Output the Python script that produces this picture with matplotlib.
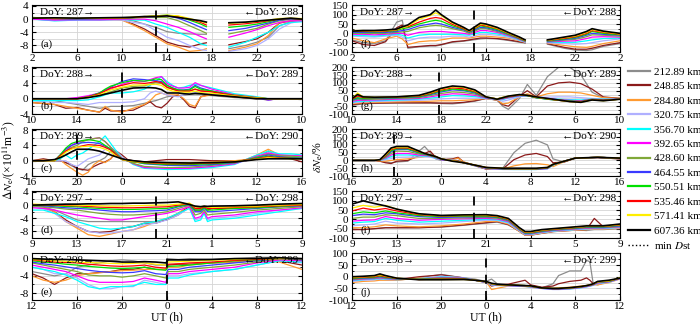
import numpy as np
import matplotlib
matplotlib.use('Agg')
import matplotlib.pyplot as plt
from matplotlib.ticker import MultipleLocator, FuncFormatter
from matplotlib.lines import Line2D

nan = np.nan

heights = ['212.89 km', '248.85 km', '284.80 km', '320.75 km', '356.70 km', '392.65 km',
           '428.60 km', '464.55 km', '550.51 km', '535.46 km', '571.41 km', '607.36 km']
colors = ['#8c8c8c', '#8b1a1a', '#ff9a30', '#b0b0ff', '#00ffff', '#ff00ff',
          '#80a838', '#3a3aff', '#00e000', '#ff0000', '#ffee00', '#000000']

# panel rows: start hour of the 24 h window, day numbers, time of min Dst
start_hours = [2, 10, 16, 9, 12]
doys = [(287, 288), (288, 289), (289, 290), (297, 298), (298, 299)]
min_dst_left = [13.0, 18.0, 20.0, 20.0, 24.0]
min_dst_right = [12.9, 17.8, 19.8, 19.9, 24.0]

# ---------------- left column: dNe (x 1e11 m^-3) ----------------
# rows in legend order: gray, brown, orange, lavender, cyan, magenta,
# olive, blue, green, red, yellow, black
t_a = [2, 4, 6, 8, 10, 11, 12, 13, 14, 15, 16, 17, 17.5, 18.5, 19.5, 21, 22, 23, 24, 25, 26]
dn_a = [
    [0, -0.2, 0, -0.3, 0, -0.5, -1.5, -2.5, -3.8, -4.3, -4.5, -4.6, -4.6, nan, -9, -8, -7, -5.5, -2, -0.8, -0.5],
    [0.2, 0, 0, 0, -0.2, -1.5, -3, -5, -7, -8, -8.5, -7.5, -7.2, nan, -7.8, -6.8, -6, -4, -1.2, -0.5, -0.3],
    [0.3, 0, 0, 0, -0.3, -1.8, -3.5, -5.5, -7.5, -8.5, -9.8, -9.5, -9, nan, -9.6, -8.5, -7.5, -5, -1, -0.5, -0.3],
    [0, -0.5, -0.3, -0.3, -0.3, -1, -1.5, -3.5, -5.5, -6.5, -8, -9.3, -9.5, nan, -9.8, -9, -8, -6, -3, -1.2, -0.5],
    [0, -0.5, -0.3, -0.2, 0, -0.3, -0.3, -1.5, -2.5, -4, -5.5, -7.5, -8, nan, -8.5, -7, -5.5, -4, -2, -1, -0.8],
    [0, -0.3, -0.2, -0.2, 0, 0, 0, -0.5, -1.5, -2.5, -3.8, -5.3, -6, nan, -5.5, -4.2, -3.2, -2, -1, -0.5, -0.5],
    [0.5, 0.2, 0, 0.2, 0.2, 0.3, 0.5, 0.5, 0.5, -0.5, -2, -3.5, -4.3, nan, -4.5, -3.5, -2.8, -1.5, -0.5, 0, -0.2],
    [0.3, 0.2, 0, 0.2, 0.3, 0.5, 0.6, 0.8, 1, 0.3, -1, -2.5, -3.2, nan, -3.5, -2.8, -2, -1.2, -0.3, 0, 0],
    [0.5, 0.3, 0.2, 0.3, 0.3, 0.5, 0.7, 1, 1.2, 0.8, -0.3, -1.5, -2.3, nan, -2.5, -2, -1.5, -0.8, 0, 0.2, 0],
    [0.3, 0.2, 0.2, 0.3, 0.3, 0.5, 0.7, 0.9, 1.1, 0.8, 0, -1, -1.8, nan, -1.8, -1.4, -1, -0.5, 0, 0.2, 0],
    [0.3, 0.3, 0.2, 0.3, 0.4, 0.6, 0.8, 1, 1.2, 1, 0.2, -0.7, -1.2, nan, -1.3, -1, -0.7, -0.3, 0.2, 0.3, 0.2],
    [0.3, 0.4, 0.3, 0.4, 0.5, 0.6, 0.8, 0.8, 1, 0.5, 0, -0.5, -0.9, nan, -1.1, -0.9, -0.6, -0.3, 0, 0.3, 0],
]

t_b = [10, 12, 13, 14, 15, 16, 16.5, 17, 18, 19, 20, 20.5, 21, 21.5, 22, 22.5, 23, 23.5, 24, 24.5, 25, 26, 28, 30, 31, 32, 34]
dn_b = [
    [-0.3, -0.5, -1, -1.5, -2, -2.5, -2.3, -2, -2, -1.8, -1.2, -0.8, -0.5, 0, 0.5, 0.7, 0.8, 0.9, 1, 1, 1, 0.8, 0.3, 0, 0, 0, 0],
    [-1, -1.5, -2.5, -2.3, -3, -3.5, -2.5, -3.2, -3.2, -3, -1.6, -0.8, -2, -2.4, -1.2, 0.5, 1, -0.3, -2, -2.4, 0.5, 1.3, 0.5, 0, -0.3, 0, 0],
    [-1, -1.5, -2, -2.5, -3, -3.5, -2, -3, -3.5, -2.5, -1.5, -0.5, 1, 1.5, 1, 1, 1, 0, -1.5, -2, 0.5, 1, 0.5, 0, -0.2, 0, 0],
    [-0.5, -1, -1, -1.2, -1.5, -1, -1, -1, -1, -0.8, 0, 1.5, 2, 1.5, 1, 0.7, 0.5, 1, 1.5, 1.5, 1.5, 1.2, 0.6, 0, -0.3, 0, 0],
    [-0.5, -0.5, -0.5, -0.5, -0.3, 0.5, 1, 1.5, 1.5, 1.8, 2.5, 3.5, 4.5, 5.8, 4.5, 3.5, 2.8, 3, 3.5, 3.8, 3.5, 2.8, 1.3, 0.5, 0, 0, 0],
    [0, 0, 0, 0.3, 0.8, 1.5, 2, 2.5, 3.8, 4.7, 4.5, 5, 5.5, 5.8, 4, 3.3, 2.8, 2.8, 3, 4.2, 3.5, 2.5, 1, 0.3, -0.3, 0, 0],
    [0, 0, 0, 0, 0.3, 1, 1.3, 1.8, 2.8, 3.2, 3.4, 3.8, 4.2, 4, 3, 2.5, 2, 2, 2, 2.5, 2.2, 1.8, 1, 0.3, 0, 0, 0],
    [0, 0, 0, 0, 0.5, 1.5, 2.3, 3, 4.5, 5.2, 5, 4.8, 4.7, 4.5, 3.5, 2.8, 2.3, 2.3, 2.5, 3.5, 2.8, 2, 0.8, 0.2, -0.3, 0, 0],
    [0, 0, 0, 0, 0.5, 1.5, 2.5, 3.3, 4.2, 4.8, 4.6, 4.8, 5.2, 5, 3.5, 2.8, 2.3, 2.2, 2.3, 3.2, 2.5, 2, 0.8, 0.2, 0, 0, 0],
    [0, 0, 0, 0, 0.5, 1.3, 2, 2.8, 3.5, 4.2, 4, 4.2, 4.5, 4.2, 3, 2.5, 2, 2, 2, 2.5, 2, 1.8, 0.8, 0.2, 0, 0, 0],
    [0, 0, 0, 0, 0.4, 1, 1.7, 2.3, 3, 3.6, 3.6, 3.7, 3.8, 3.5, 2.5, 2, 1.8, 1.7, 1.7, 2, 1.6, 1.4, 0.7, 0.2, 0, 0, 0],
    [0, 0, 0, 0, 0.3, 0.8, 1.2, 1.5, 2.2, 2.8, 2.9, 2.9, 2.8, 2.4, 1.5, 1.5, 1.5, 1.3, 1.2, 1.4, 1.3, 1, 0.5, 0, 0, 0, 0],
]

t_c = [16, 17, 18, 18.5, 19, 19.5, 20, 20.5, 21, 21.5, 22, 22.5, 23, 23.5, 24, 24.5, 25, 26, 28, 30, 32, 34, 35, 36, 37, 38, 39, 40]
dn_c = [
    [0, 0, 0, 0, -0.5, -1.3, -2, -2.5, -1, -0.3, 0, 0.8, 2.5, 2, 0.5, 0, -0.3, -0.5, -0.8, -0.8, -0.5, -0.2, 0, 0.8, 2, 1.2, 1, 0.5],
    [0, 0.5, 0, 0, -0.5, -1, -2, -2.3, -2.5, -1.5, -0.8, -0.3, 0.5, 2.5, 1.5, 0.3, 0, -0.3, 0.3, 0.3, 0, 0, 0, 0.5, 2.5, 1, 0.5, -0.3],
    [0, 0.2, 0, 0.3, -1, -2, -3, -3.8, -3, -1, 0, -0.5, 0.5, 2, 1, 0, -0.3, -0.5, -0.8, -0.5, -0.3, 0, 0.3, 1.5, 3, 1.5, 1, 0.5],
    [0, 0, 0, 0, 0, -1, -1.5, -0.5, 0.5, 1, 1.5, 3, 3.5, 2.5, 1, 0, -0.8, -1.8, -2, -2, -1.5, -0.8, 0, 1, 2.2, 1.5, 1.5, 1],
    [0, 0, 0, 0.5, 1.5, 0.5, 1.5, 2, 3, 4, 5, 6.5, 4.5, 2.5, 0.5, 0, -1, -2, -2.3, -2.2, -1.8, -1, 0.3, 1.5, 2.5, 1.8, 1.8, 1.5],
    [0, 0, 0, 1, 2.5, 4, 4.8, 5.2, 5.5, 5.8, 6, 5, 3.5, 2, 0.5, 0, -0.8, -1.8, -2, -2, -1.5, -0.8, 0.2, 1.2, 2, 1.5, 1.3, 1.3],
    [0, 0, 0, 1, 2.5, 3.5, 4, 5, 5.5, 5.8, 6, 5, 3.5, 2, 0.5, 0, -0.7, -1.5, -1.8, -1.7, -1.2, -0.6, 0.2, 1, 1.7, 1.3, 1.2, 1],
    [0, 0, 0, 1.5, 3, 4, 4.5, 4.7, 4.8, 4.7, 4.5, 3.8, 3, 1.5, 0.3, 0, -0.2, -0.8, -1.2, -1.3, -1, -0.5, 0.2, 0.8, 1.5, 1, 0.8, 0.7],
    [0, 0, 0, 1.5, 3.3, 4.5, 5, 5.3, 5.5, 5.3, 5, 4, 3, 1.5, 0.3, 0, -0.3, -0.7, -1, -1, -0.8, -0.4, 0.2, 0.7, 1.2, 0.8, 0.7, 0.6],
    [0, 0, 0, 1.3, 2.5, 3.2, 3.5, 3.9, 4.2, 4.1, 4, 3.5, 2.8, 1.5, 0.3, 0, -0.2, -0.5, -0.8, -0.8, -0.6, -0.3, 0.2, 0.5, 1, 0.7, 0.6, 0.5],
    [0, 0, 0, 1, 2.2, 3, 3.5, 3.7, 3.8, 3.7, 3.5, 3, 2.3, 1.2, 0.3, 0, -0.2, -0.4, -0.6, -0.6, -0.5, -0.2, 0.1, 0.4, 0.8, 0.6, 0.5, 0.5],
    [0, 0, 0.3, 0.8, 1.5, 2.3, 3, 3, 3, 2.8, 2.5, 2, 1.5, 1, 0.5, 0.2, 0, -0.3, -0.5, -0.6, -0.5, -0.3, 0, 0.3, 0.5, 0.5, 0.5, 0.5],
]

t_d = [9, 10, 11, 12, 13, 14, 15, 16, 17, 18, 19, 20, 21, 22, 23, 23.5, 24, 24.3, 24.6, 25, 27, 29, 31, 33]
dn_d = [
    [-0.3, -0.5, -1.5, -3, -4.5, -5, -5, -5, -5, -5, -5, -5, -4.5, -3, -0.5, -1, -1, -0.5, -1, -1, -1, -0.5, -0.3, 0],
    [-0.5, -0.8, -2, -4.5, -6.5, -8, -8.3, -8, -7, -6.5, -5.5, -5.5, -4.3, -2.5, -0.5, -1.5, -1.5, -0.8, -1.5, -1, -0.8, -0.5, -0.3, 0],
    [-0.5, -0.8, -2, -5, -7, -9, -9.5, -8.8, -8, -7.5, -6.5, -5, -4, -2.5, 0.2, -0.5, -1, -0.5, -1, -0.5, -0.8, -0.7, -0.5, -0.3],
    [-0.5, -1, -2.5, -5, -6.5, -8, -8.5, -8.5, -8, -7.5, -6, -5.5, -4.5, -3, -0.8, -4.5, -4, -2, -4.5, -4, -3.5, -2.5, -1.5, -1],
    [-1.5, -1.5, -2.5, -3.5, -5, -6, -7, -7.3, -7, -6.5, -5.5, -5, -4, -2.5, -1, -5, -4.5, -2.5, -5, -4.5, -4, -3, -2, -1],
    [-0.8, -1, -1.5, -2.3, -3, -3.5, -4, -4.5, -4.5, -4, -3.5, -3, -2.5, -1.5, -0.5, -4, -3.5, -2, -4, -3.5, -3, -2, -1.5, -0.8],
    [-0.3, -0.5, -0.8, -1.2, -1.5, -2, -2.5, -2.8, -3, -3, -2.8, -2.5, -2, -1, 0, -3, -2.5, -1.5, -3, -2.8, -2.2, -1.5, -1, -0.5],
    [0, -0.2, -0.5, -0.8, -1, -1.2, -1.5, -1.8, -2, -2, -1.8, -1.7, -1.5, -0.5, 0.2, -2, -2, -1, -2, -2, -1.5, -1, -0.5, -0.2],
    [0, 0, -0.2, -0.4, -0.5, -0.8, -1, -1.2, -1.3, -1.3, -1.2, -1.1, -1, -0.3, 0.3, -1.5, -1.5, -0.8, -1.5, -1.5, -1, -0.8, -0.4, 0],
    [0.2, 0.1, 0, -0.1, -0.2, -0.4, -0.6, -0.7, -0.8, -0.8, -0.7, -0.6, -0.5, 0, 0.5, -1, -1, -0.5, -1, -1, -0.7, -0.5, -0.2, 0],
    [0.3, 0.2, 0.2, 0.1, 0, -0.1, -0.2, -0.3, -0.3, -0.2, -0.1, 0, 0, 0.3, 0.6, -0.5, -0.6, -0.3, -0.6, -0.7, -0.5, -0.3, 0, 0.2],
    [0, 0.1, 0.2, 0.3, 0.3, 0.4, 0.4, 0.5, 0.5, 0.6, 0.6, 0.7, 0.8, 1, 0.2, -0.3, -0.5, -0.3, -0.4, -0.3, -0.2, 0, 0.3, 0.5],
]

t_e = [12, 13, 14, 15, 16, 17, 18, 19, 20, 21, 22, 23, 23.9, 24.1, 25, 26, 28, 30, 32, 34, 36]
dn_e = [
    [-3, -3.5, -4, -3.5, -2, -1.5, -1, -0.5, -0.3, -0.5, -1, -1.5, -1.5, 0, -0.2, 0, -0.2, 0, 0.3, 0.3, -0.5],
    [-3.5, -4.5, -6, -4.5, -3.5, -3.5, -3.2, -3, -2.5, -2.5, -2, -2.5, -2.5, -1.5, -1.3, -1.3, -1, -0.8, -0.5, -0.5, -1.5],
    [-4, -5, -5.5, -5, -4, -3.5, -3.3, -3, -2.8, -2.7, -2.5, -2.5, -2.5, -2, -2, -1.5, -1, -0.8, -0.5, -0.8, -2.5],
    [-2, -2.5, -3.5, -3.5, -4.5, -6, -7, -7, -6.5, -6.5, -5, -5.5, -6, -4, -4, -3.5, -3, -2.5, -1.5, -0.5, -1],
    [-2, -2.5, -3, -3.8, -5, -6.5, -7, -6.5, -6.5, -6.3, -5.5, -6, -6, -4.5, -4.5, -3.8, -3, -2.5, -1.5, -0.5, -0.8],
    [-1.5, -2, -2.5, -3, -4, -5, -5.5, -5.5, -5.5, -5.3, -4.5, -5, -5.5, -3.5, -3.5, -3, -2.5, -2, -1, -0.3, -0.5],
    [-1, -1.5, -2, -2.5, -3, -3.8, -4, -4, -4.3, -4, -3.5, -4, -4.5, -3, -3, -2.5, -2, -1.5, -0.8, 0, -0.3],
    [-0.8, -1.2, -1.5, -1.9, -2.3, -2.7, -3, -3.2, -3.3, -3.2, -2.8, -3.5, -3.7, -2.5, -2.5, -2, -1.5, -1, -0.5, 0, -0.3],
    [-0.5, -0.8, -1, -1.3, -1.5, -1.8, -2, -2.2, -2.3, -2.2, -2, -2.5, -2.7, -1.8, -1.7, -1.5, -1, -0.5, -0.3, 0, 0],
    [-0.3, -0.5, -0.8, -0.9, -1, -1.3, -1.5, -1.7, -1.8, -1.7, -1.5, -2, -2.2, -1.3, -1.2, -1, -0.8, -0.4, -0.2, 0, 0],
    [-0.2, -0.3, -0.5, -0.6, -0.8, -0.9, -1, -1.1, -1.2, -1.1, -1, -1.3, -1.5, -0.8, -0.7, -0.6, -0.4, -0.2, 0, 0, 0],
    [0, -0.1, -0.2, -0.2, -0.3, -0.4, -0.5, -0.6, -0.8, -0.8, -0.7, -0.8, -1, -0.3, -0.3, -0.3, -0.2, 0, 0, 0.2, 0],
]

# ---------------- right column: relative change (%) ----------------
t_f = [2, 3, 4, 5, 6, 6.5, 7, 8, 9, 9.5, 10, 11, 12, 12.5, 13.5, 14, 15, 16, 17, 17.5, 18.5, 19.5, 21, 22, 23, 23.5, 24.5, 26]
pc_f = [
    [-35, -50, -55, -40, 60, 70, -80, -72, -68, -68, -62, -48, -42, -38, -30, -28, -30, -38, -48, -52, nan, -58, -80, -90, -92, -88, -70, -55],
    [-40, -60, -65, -45, 30, 45, -75, -70, -65, -65, -60, -45, -40, -35, -25, -25, -28, -35, -45, -50, nan, -55, -75, -85, -85, -80, -65, -50],
    [-25, -40, -50, -30, -15, -30, -60, -45, -40, -40, -35, -25, -25, -25, -15, -15, -20, -25, -40, -48, nan, -52, -65, -72, -75, -70, -55, -40],
    [-15, -18, -20, -15, -10, -20, -40, -25, -20, -20, -20, -15, -15, -20, -5, -5, -10, -20, -38, -47, nan, -50, -55, -58, -55, -50, -40, -30],
    [-10, -12, -15, -10, -5, -10, -25, -10, -5, -5, -5, -5, -8, -10, 5, 5, -3, -15, -35, -45, nan, -48, -48, -48, -40, -35, -28, -25],
    [-5, -5, -8, -5, 0, 0, -10, 5, 10, 10, 10, 5, 0, -5, 15, 15, 5, -12, -32, -44, nan, -46, -42, -40, -28, -20, -18, -20],
    [0, 0, 0, 0, 5, 8, 10, 30, 40, 42, 40, 25, 12, 0, 25, 25, 10, -8, -30, -42, nan, -44, -37, -32, -18, -8, -10, -15],
    [5, 5, 5, 5, 10, 15, 20, 40, 50, 55, 50, 32, 18, 5, 32, 30, 15, -5, -28, -40, nan, -42, -33, -27, -10, 0, -5, -10],
    [10, 10, 8, 10, 15, 25, 30, 50, 65, 70, 65, 40, 22, 8, 40, 35, 20, -3, -27, -40, nan, -40, -30, -22, -5, 10, 0, -8],
    [12, 12, 10, 12, 18, 35, 35, 60, 80, 85, 80, 48, 25, 10, 45, 40, 25, 0, -25, -38, nan, -38, -27, -18, 0, 15, 5, -5],
    [15, 15, 12, 15, 20, 30, 40, 75, 95, 110, 95, 55, 30, 12, 50, 45, 28, 2, -22, -37, nan, -37, -23, -14, 5, 20, 8, -3],
    [12, 15, 15, 18, 23, 35, 45, 85, 100, 125, 100, 60, 32, 15, 55, 50, 32, 5, -20, -35, nan, -35, -20, -10, 10, 25, 12, 0],
]

t_g = [10, 10.5, 11, 12, 14, 16, 17, 18, 19, 20, 21, 22, 23, 23.5, 24, 25, 25.7, 26.5, 27.5, 28.5, 29.5, 30.5, 31.5, 32.5, 34]
pc_g = [
    [-45, -40, -35, -32, -30, -30, -30, -33, -35, -28, -18, 0, -12, -50, -70, 0, 90, 20, 140, 200, 200, 150, 40, 5, 0],
    [-40, -35, -32, -30, -28, -28, -28, -30, -30, -25, -15, 0, -10, -40, -50, 15, 50, 10, 80, 100, 105, 95, 60, 10, 0],
    [-35, -30, -28, -25, -22, -20, -18, -15, -15, -12, -8, 0, -10, -35, -30, 10, 30, 10, 30, 40, 40, 35, 20, 5, 0],
    [-30, -25, -22, -20, -15, -12, -8, -3, 0, 2, 2, 0, -8, -18, -10, 10, 20, 8, 8, 10, 10, 5, 0, -3, -5],
    [-25, -18, -18, -15, -10, -5, 2, 10, 18, 16, 12, 2, -5, -8, 3, 15, 18, 5, 0, -5, -8, -10, -3, -5, -5],
    [-20, -12, -12, -10, -5, 0, 10, 22, 30, 27, 20, 3, -5, -3, 5, 18, 18, 5, 0, -8, -12, -15, -5, -8, -5],
    [-15, -5, -8, -5, 0, 5, 18, 32, 42, 38, 28, 5, -5, 0, 8, 20, 18, 5, -3, -10, -15, -18, -5, -10, -5],
    [-12, 0, -3, 0, 3, 10, 24, 42, 55, 50, 35, 5, -3, 3, 10, 20, 18, 5, -5, -12, -18, -20, -8, -10, -5],
    [-8, 5, 0, 3, 5, 12, 28, 48, 60, 55, 40, 8, -3, 5, 12, 22, 18, 5, -5, -12, -18, -22, -8, -12, -5],
    [-5, 15, 5, 5, 8, 15, 32, 55, 68, 62, 45, 8, -3, 5, 12, 22, 20, 8, -2, -12, -20, -22, -8, -12, -5],
    [0, 35, 10, 8, 10, 18, 36, 60, 75, 70, 50, 10, -3, 8, 15, 25, 20, 8, -2, -12, -20, -25, -10, -15, -5],
    [0, 25, 10, 8, 10, 20, 40, 65, 80, 75, 55, 10, -5, 5, 15, 25, 20, 10, 0, -10, -20, -25, -10, -15, -5],
]

t_h = [16, 18, 18.5, 19, 19.5, 20, 21, 22, 22.5, 23, 23.5, 24, 25, 25.5, 26, 28, 29.5, 30.5, 31.5, 32.5, 33.5, 34, 35, 36, 38, 40]
pc_h = [
    [0, 0, -5, -10, -15, -10, -5, 60, 90, 50, 10, 0, 5, 15, -15, -55, -50, 50, 110, 130, 100, 10, -10, 15, 18, 10],
    [0, 0, -5, -15, -20, -5, 0, 30, 45, 60, 20, 5, 10, 20, -10, -55, -55, 5, 35, 45, 25, -15, -10, 15, 18, 10],
    [0, 0, -3, -5, 0, 5, 10, 20, 25, 30, 15, 5, 5, 15, -10, -52, -55, -35, -22, -20, -28, -40, -8, 15, 20, 15],
    [0, 0, 0, 5, 12, 20, 22, 22, 25, 22, 12, 5, 2, 0, -15, -52, -58, -58, -58, -58, -54, -30, -5, 15, 20, 15],
    [0, 0, 1, 10, 25, 35, 35, 30, 28, 25, 15, 5, 0, -3, -15, -50, -57, -58, -58, -58, -53, -30, -5, 15, 20, 15],
    [0, 0, 2, 15, 35, 45, 45, 35, 32, 28, 18, 5, 0, -3, -15, -50, -56, -57, -57, -57, -52, -28, -5, 15, 20, 15],
    [0, 0, 2, 20, 45, 60, 58, 42, 36, 30, 20, 8, 0, -3, -15, -48, -55, -56, -56, -56, -50, -28, -5, 15, 20, 15],
    [0, 0, 3, 25, 55, 70, 70, 48, 40, 32, 22, 8, -2, -5, -15, -47, -54, -55, -55, -55, -49, -27, -5, 15, 20, 15],
    [0, 0, 3, 28, 62, 75, 75, 50, 42, 33, 23, 10, -2, -5, -15, -46, -53, -54, -54, -54, -48, -27, -5, 15, 20, 15],
    [0, 0, 4, 30, 70, 80, 80, 55, 45, 35, 25, 10, -3, -5, -15, -45, -52, -53, -53, -53, -47, -25, -5, 15, 20, 15],
    [0, 0, 5, 35, 75, 85, 85, 58, 45, 35, 25, 10, -3, -8, -15, -45, -50, -52, -52, -52, -45, -25, -5, 15, 20, 15],
    [0, 0, 5, 40, 80, 90, 90, 60, 45, 35, 25, 10, -5, -10, -15, -45, -50, -50, -50, -50, -45, -25, -5, 15, 20, 15],
]

t_i = [9, 10, 11, 12, 13, 14, 15, 17, 19, 21, 22, 23, 24, 24.5, 25, 26, 27, 29, 30, 30.7, 31.5, 33]
pc_i = [
    [-50, -55, -50, -45, -45, -45, -45, -42, -32, -20, -15, -30, -62, -82, -82, -72, -64, -56, -60, -55, -55, -50],
    [-55, -55, -50, -45, -45, -45, -45, -40, -30, -18, -12, -28, -65, -85, -85, -75, -66, -58, -55, 5, -40, -50],
    [-45, -45, -40, -30, -35, -38, -40, -35, -25, -12, -10, -25, -65, -84, -84, -74, -65, -58, -55, -52, -52, -48],
    [-35, -30, -25, -10, -20, -22, -25, -20, -12, -5, -6, -20, -62, -82, -82, -72, -64, -56, -52, -50, -50, -45],
    [-20, -15, -12, 5, -5, -10, -15, -10, -5, 0, -2, -16, -60, -80, -80, -70, -62, -54, -50, -48, -48, -42],
    [-10, -5, -3, 15, 5, 0, -5, 0, 3, 5, 2, -12, -58, -78, -78, -68, -60, -52, -48, -46, -46, -40],
    [5, 12, 12, 25, 20, 12, 5, 5, 8, 10, 6, -8, -56, -76, -76, -66, -58, -50, -45, -44, -44, -38],
    [20, 28, 25, 35, 30, 22, 15, 10, 13, 14, 10, -5, -54, -74, -74, -64, -57, -48, -42, -42, -42, -35],
    [30, 40, 35, 45, 35, 28, 20, 15, 17, 17, 12, -2, -52, -72, -72, -62, -55, -46, -40, -40, -40, -32],
    [45, 60, 50, 58, 45, 35, 25, 18, 20, 20, 15, 0, -50, -70, -70, -60, -54, -44, -38, -38, -38, -30],
    [60, 75, 65, 75, 55, 40, 28, 20, 22, 22, 18, 3, -48, -68, -68, -58, -52, -42, -37, -37, -37, -28],
    [82, 99, 85, 72, 55, 42, 30, 21, 24, 25, 20, 5, -45, -65, -65, -55, -50, -40, -35, -35, -35, -25],
]

t_j = [12, 13, 14, 14.5, 15, 16, 18, 20, 22, 23, 24, 24.5, 25, 26, 27.5, 28, 29, 30, 30.5, 31.5, 32.5, 33, 33.3, 33.6, 34, 35, 36]
pc_j = [
    [-10, -10, -10, -12, -12, -15, -5, 10, -5, -10, -20, -10, -30, -35, -38, -40, -48, -30, 5, 25, 25, 70, 65, -30, -35, -20, -5],
    [-15, -12, -10, -10, -12, -12, 0, 8, -5, -15, -25, -40, -35, -32, -15, -35, -45, -40, -30, -20, -15, -5, -15, -30, -30, -20, -5],
    [-25, -20, -18, -15, -15, -15, -6, 0, -5, -15, -20, -55, -50, -40, -42, -45, -50, -50, -48, -45, -40, -38, -36, -35, -35, -25, -10],
    [-20, -15, -13, -10, -12, -13, -8, 2, -4, -15, -25, -36, -38, -39, -42, -45, -51, -55, -55, -53, -48, -44, -41, -37, -30, -24, -9],
    [-17, -12, -10, -8, -10, -12, -9, -1, -5, -15, -24, -34, -37, -38, -41, -44, -50, -54, -54, -52, -47, -43, -40, -36, -28, -23, -8],
    [-14, -10, -8, -5, -8, -11, -10, -3, -6, -15, -24, -33, -36, -38, -40, -43, -50, -53, -53, -51, -46, -42, -39, -35, -27, -22, -8],
    [-11, -8, -6, -3, -6, -10, -10, -5, -7, -15, -23, -32, -35, -37, -39, -42, -49, -52, -52, -50, -45, -40, -38, -34, -25, -20, -7],
    [-9, -6, -4, 0, -4, -9, -11, -7, -8, -15, -23, -31, -35, -37, -39, -41, -49, -52, -52, -49, -44, -40, -37, -33, -24, -20, -6],
    [-7, -4, -2, 3, -2, -8, -11, -8, -9, -15, -22, -30, -34, -36, -38, -40, -48, -51, -51, -48, -43, -38, -36, -32, -22, -20, -5],
    [-5, -2, 0, 5, 0, -7, -12, -10, -10, -15, -22, -30, -34, -36, -38, -40, -48, -51, -51, -48, -43, -38, -36, -32, -22, -18, -6],
    [-3, 0, 3, 8, 3, -6, -12, -12, -12, -15, -22, -30, -34, -36, -38, -40, -48, -50, -50, -48, -43, -38, -36, -30, -22, -18, -5],
    [0, 2, 5, 12, 5, -6, -13, -13, -12, -15, -20, -28, -32, -35, -38, -39, -48, -50, -50, -47, -42, -38, -35, -30, -20, -15, -6],
]

left_data = [(t_a, dn_a), (t_b, dn_b), (t_c, dn_c), (t_d, dn_d), (t_e, dn_e)]
right_data = [(t_f, pc_f), (t_g, pc_g), (t_h, pc_h), (t_i, pc_i), (t_j, pc_j)]
left_ylim = [(-10, 4.3), (-4, 8.3), (-4, 8.3), (-10, 4.3), (-9.6, 1.3)]
left_yticks = [[-8, -4, 0, 4], [-4, 0, 4, 8], [-4, 0, 4, 8], [-8, -4, 0, 4], [-8, -4, 0]]
right_ylim = [(-100, 152), (-100, 202), (-100, 202), (-100, 152), (-100, 102)]
right_yticks = [np.arange(-100, 151, 50), np.arange(-100, 201, 50), np.arange(-100, 201, 50),
                np.arange(-100, 151, 50), np.arange(-100, 101, 50)]

plt.rcParams['font.family'] = ['Liberation Serif', 'DejaVu Serif']
plt.rcParams['mathtext.fontset'] = 'stix'
plt.rcParams['axes.unicode_minus'] = False

W, H = 700, 324
fig = plt.figure(figsize=(7, 3.24), dpi=100)

row_tops = [5, 67, 129, 191, 253]
panel_h = 47


def draw_panel(ax, t, rows, x0, ylim, yticks, yminor, dst, doy, tag):
    for row, c in zip(rows, colors):
        ax.plot(t, row, color=c, lw=1.2 if c == '#000000' else 0.9, zorder=2)
    ax.axvline(dst, color='k', lw=1.3, ls=(0, (5, 4)), zorder=3)
    ax.set_xlim(x0, x0 + 24)
    ax.set_ylim(*ylim)
    ax.set_xticks(np.arange(x0, x0 + 25, 4))
    ax.xaxis.set_major_formatter(FuncFormatter(lambda v, p: f'{int(round(v)) % 24}'))
    ax.set_yticks(yticks)
    ax.yaxis.set_minor_locator(MultipleLocator(yminor))
    ax.set_axisbelow(True)
    ax.grid(True, axis='x', which='major', color='#d4d4d4', lw=0.6)
    ax.grid(True, axis='y', which='both', color='#d4d4d4', lw=0.6)
    ax.tick_params(which='both', direction='in', right=True, labelsize=8)
    ax.tick_params(axis='x', pad=1.5)
    ax.tick_params(axis='y', pad=2.5)
    ax.tick_params(which='major', length=3)
    ax.tick_params(which='minor', length=1.5)
    for s in ax.spines.values():
        s.set_linewidth(0.8)
    ax.text(0.03, 0.84, f'DoY: {doy[0]}\u2192', transform=ax.transAxes, fontsize=8, va='center')
    ax.text(0.985, 0.84, f'\u2190DoY: {doy[1]}', transform=ax.transAxes, fontsize=8,
            va='center', ha='right')
    ax.text(0.03, 0.16, f'({tag})', transform=ax.transAxes, fontsize=8, va='center')


for k in range(5):
    top = row_tops[k]
    axl = fig.add_axes([32 / W, 1 - (top + panel_h) / H, 270 / W, panel_h / H])
    t, rows = left_data[k]
    draw_panel(axl, t, rows, start_hours[k], left_ylim[k], left_yticks[k], 2,
               min_dst_left[k], doys[k], 'abcde'[k])
    axr = fig.add_axes([352 / W, 1 - (top + panel_h) / H, 268 / W, panel_h / H])
    t, rows = right_data[k]
    draw_panel(axr, t, rows, start_hours[k], right_ylim[k], right_yticks[k], 25,
               min_dst_right[k], doys[k], 'fghij'[k])

fig.text(0.012, 0.505, r'$\Delta N_{\rm e}$/(×10$^{11}$m$^{-3}$)', rotation=90,
         ha='center', va='center', fontsize=8.5)
fig.text(0.455, 0.515, r'$\delta N_{\rm e}$/%', rotation=90, ha='center', va='center', fontsize=8.5)
fig.text(167 / W, 1 - 317 / H, 'UT (h)', ha='center', va='center', fontsize=8.5)
fig.text(486 / W, 1 - 317 / H, 'UT (h)', ha='center', va='center', fontsize=8.5)

handles = [Line2D([], [], color=c, lw=1.6) for c in colors]
handles.append(Line2D([], [], color='k', lw=1.0, ls=':'))
labels = heights + [r'min $D$st']
fig.legend(handles, labels, loc='upper left', bbox_to_anchor=(628 / W, 1 - 67 / H),
           frameon=False, fontsize=8, handlelength=2.0, handletextpad=0.3,
           labelspacing=0.42, borderpad=0, borderaxespad=0)

fig.savefig('out.png', dpi=100)
